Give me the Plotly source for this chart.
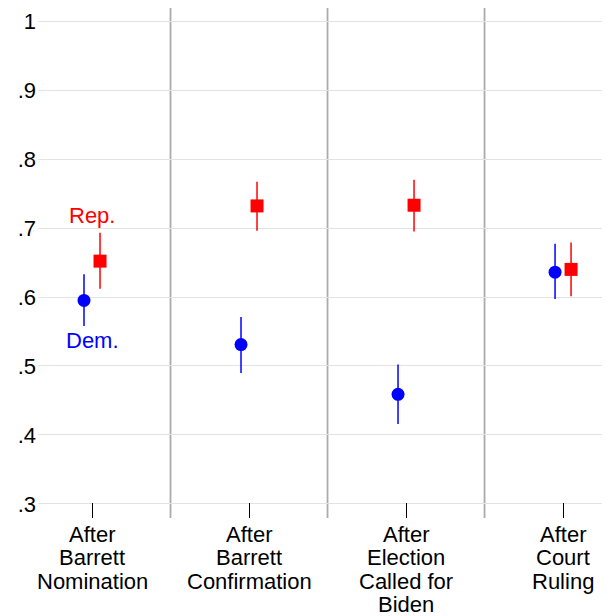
import plotly.graph_objects as go

category_lines = [["After", "Barrett", "Nomination"],
                  ["After", "Barrett", "Confirmation"],
                  ["After", "Election", "Called for", "Biden"],
                  ["After", "Court", "Ruling"]]
cat_pos = [1, 2, 3, 4]

dem_est = [0.595, 0.531, 0.459, 0.636]
dem_lo = [0.558, 0.490, 0.416, 0.597]
dem_hi = [0.633, 0.571, 0.502, 0.677]

rep_est = [0.652, 0.732, 0.733, 0.640]
rep_lo = [0.612, 0.696, 0.695, 0.601]
rep_hi = [0.693, 0.767, 0.770, 0.679]

y_ticks = [0.3, 0.4, 0.5, 0.6, 0.7, 0.8, 0.9, 1.0]
y_labels = [".3", ".4", ".5", ".6", ".7", ".8", ".9", "1"]

offset = 0.051
BLUE = "#0000ff"
RED = "#ff0000"
FONT = "Liberation Sans, Arial, Helvetica, sans-serif"

fig = go.Figure()
fig.add_trace(go.Scatter(
    x=[c - offset for c in cat_pos], y=dem_est, mode="markers",
    marker=dict(symbol="circle", size=13, color=BLUE),
    error_y=dict(type="data", symmetric=False,
                 array=[h - e for h, e in zip(dem_hi, dem_est)],
                 arrayminus=[e - l for e, l in zip(dem_est, dem_lo)],
                 width=0, thickness=1.5, color=BLUE),
    showlegend=False, cliponaxis=False))
fig.add_trace(go.Scatter(
    x=[c + offset for c in cat_pos], y=rep_est, mode="markers",
    marker=dict(symbol="square", size=13, color=RED),
    error_y=dict(type="data", symmetric=False,
                 array=[h - e for h, e in zip(rep_hi, rep_est)],
                 arrayminus=[e - l for e, l in zip(rep_est, rep_lo)],
                 width=0, thickness=1.5, color=RED),
    showlegend=False, cliponaxis=False))

for xs in [1.5, 2.5, 3.5]:
    fig.add_shape(type="line", x0=xs, x1=xs, xref="x", yref="paper", y0=0, y1=1.004,
                  line=dict(color="#ababab", width=1.8), layer="below")

fig.add_annotation(x=1, y=0.7188, text="Rep.", showarrow=False,
                   font=dict(family=FONT, size=22, color=RED))
fig.add_annotation(x=1, y=0.5367, text="Dem.", showarrow=False,
                   font=dict(family=FONT, size=22, color=BLUE))

# multi-line category labels, one annotation per line
line_step = 23.6
for pos, lines in zip(cat_pos, category_lines):
    for i, txt in enumerate(lines):
        fig.add_annotation(x=pos, xref="x", y=0, yref="paper", yanchor="middle",
                           yshift=-16 - i * line_step, text=txt, showarrow=False,
                           font=dict(family=FONT, size=22, color="black"))

fig.update_layout(
    width=602, height=608,
    margin=dict(l=30, r=0, t=0, b=98),
    paper_bgcolor="white", plot_bgcolor="white",
    font=dict(family=FONT, size=22, color="black"),
    xaxis=dict(range=[0.656, 4.299], tickvals=cat_pos, ticktext=["", "", "", ""],
               showgrid=False, zeroline=False, showline=False, automargin=False,
               ticks="inside", ticklen=15, tickwidth=1.2, tickcolor="black"),
    yaxis=dict(range=[0.2797, 1.01884], tickvals=y_ticks, ticktext=y_labels,
               showgrid=True, gridcolor="#e3e3e3", gridwidth=1,
               zeroline=False, showline=False, ticks="", automargin=False,
               ticklabelstandoff=1,
               tickfont=dict(family=FONT, size=22, color="black")),
)

fig.write_html("out.html")
